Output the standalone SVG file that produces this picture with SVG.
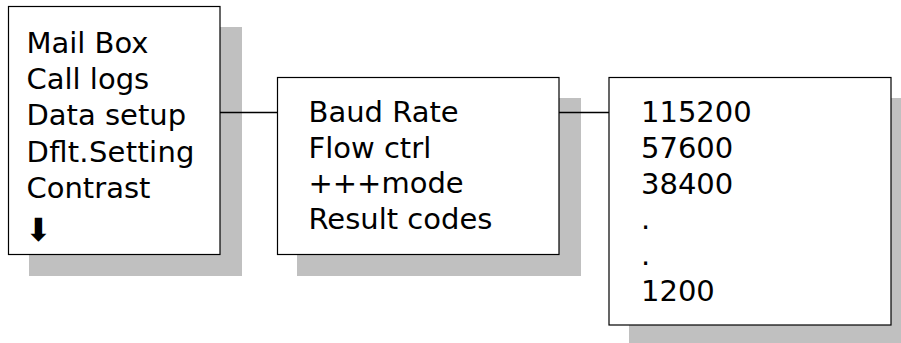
<svg xmlns="http://www.w3.org/2000/svg" width="901" height="343" viewBox="0 0 901 343">
<style>
.shadow{fill:#c0c0c0;stroke:none}
.box{fill:#fff;stroke:#000;stroke-width:1.2}
.t{font-family:"DejaVu Sans","Verdana",sans-serif;font-size:29px;fill:#000}
.conn{stroke:#000;stroke-width:1.3;fill:none}
</style>
<rect width="901" height="343" fill="#fff"/>
<g id="menu">
<rect class="shadow" x="29" y="27" width="213" height="249"/>
<rect class="box" x="8.5" y="6.5" width="211.5" height="248"/>
<text class="t" x="26.5" y="53">Mail Box</text>
<text class="t" x="26.5" y="89.2">Call logs</text>
<text class="t" x="26.5" y="125.4">Data setup</text>
<text class="t" x="26.5" y="161.6" textLength="168" lengthAdjust="spacing">Dflt.Setting</text>
<text class="t" x="26.5" y="197.8">Contrast</text>
<text class="t" x="25" y="241" style="font-size:32px">⬇</text>
</g>
<g id="datasetup">
<rect class="shadow" x="297" y="98" width="284" height="178"/>
<rect class="box" x="277.5" y="77.5" width="281.5" height="177"/>
<text class="t" x="308.5" y="121.5">Baud Rate</text>
<text class="t" x="308.5" y="157.5">Flow ctrl</text>
<text class="t" x="308.5" y="193">+++mode</text>
<text class="t" x="308.5" y="228.5">Result codes</text>
</g>
<g id="baudrate">
<rect class="shadow" x="629" y="98" width="272" height="245"/>
<rect class="box" x="609" y="77.5" width="282" height="247.5"/>
<text class="t" x="641" y="121.5">115200</text>
<text class="t" x="641" y="157.5">57600</text>
<text class="t" x="641" y="193.5">38400</text>
<text class="t" x="641" y="229">.</text>
<text class="t" x="641" y="264.5">.</text>
<text class="t" x="641" y="300.5">1200</text>
</g>
<g id="connectors">
<line class="conn" x1="220" y1="112.5" x2="277.5" y2="112.5"/>
<line class="conn" x1="559" y1="112.5" x2="609" y2="112.5"/>
</g>
</svg>
